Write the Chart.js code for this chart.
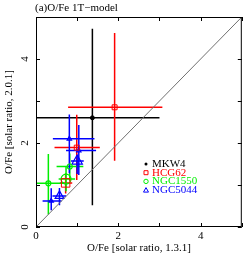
<!DOCTYPE html>
<html lang="en">
<head>
    <meta charset="UTF-8">
    <title>O/Fe 1T-model</title>
    <script src="https://cdn.jsdelivr.net/npm/chart.js"></script>
    <style>
        body {
            margin: 0;
            padding: 0;
            background-color: #fff;
        }
    </style>
</head>
<body>
    <canvas id="ofeChart" width="249" height="255"></canvas>

    <script>
        // data (x = O/Fe 1.3.1, y = O/Fe 2.0.1)
        const seriesNames = ['MKW4', 'HCG62', 'NGC1550', 'NGC5044'];

        const mkw4X = [1.37];
        const mkw4Y = [2.60];
        const mkw4XLo = [0.00];
        const mkw4XHi = [3.00];
        const mkw4YLo = [0.52];
        const mkw4YHi = [4.72];

        const hcg62X = [1.91, 0.99, 0.72];
        const hcg62Y = [2.85, 1.89, 1.05];
        const hcg62XLo = [0.78, 0.45, 0.58];
        const hcg62XHi = [3.07, 1.55, 0.88];
        const hcg62YLo = [1.58, 1.12, 0.80];
        const hcg62YHi = [4.62, 2.67, 1.28];

        const ngc1550X = [0.30, 0.73, 0.82];
        const ngc1550Y = [1.04, 1.14, 1.44];
        const ngc1550XLo = [0.00, 0.55, 0.50];
        const ngc1550XHi = [0.68, 0.95, 1.15];
        const ngc1550YLo = [0.30, 0.85, 1.10];
        const ngc1550YHi = [1.74, 1.45, 1.75];

        const ngc5044X = [0.81, 1.04, 1.00, 0.57, 0.37];
        const ngc5044Y = [2.10, 1.82, 1.57, 0.74, 0.62];
        const ngc5044XLo = [0.41, 0.73, 0.85, 0.40, 0.16];
        const ngc5044XHi = [1.42, 1.46, 1.16, 0.73, 0.62];
        const ngc5044YLo = [1.28, 1.24, 1.26, 0.52, 0.40];
        const ngc5044YHi = [2.68, 2.43, 1.70, 0.93, 0.92];

        const diagX = [0, 5];

        const xTicks = [0, 1, 2, 3, 4, 5];
        const yTicks = [0, 1, 2, 3, 4, 5];
        const xTickLabels = ['0', '', '2', '', '4', ''];
        const yTickLabels = ['0', '', '2', '', '4', ''];

        const serif = '"Liberation Serif", "DejaVu Serif", serif';

        function toPoints(xs, ys, xlo, xhi, ylo, yhi) {
            return xs.map(function(x, i) {
                return { x: x, y: ys[i], xMin: xlo[i], xMax: xhi[i], yMin: ylo[i], yMax: yhi[i] };
            });
        }

        // draws error bars, frame, inward ticks, rotated y labels, legend and title
        const extras = {
            id: 'extras',
            beforeDatasetsDraw(chart) {
                const ctx = chart.ctx;
                const xs = chart.scales.x;
                const ys = chart.scales.y;
                ctx.save();
                chart.data.datasets.forEach(function(ds) {
                    if (!ds.errorBars) return;
                    ctx.strokeStyle = ds.borderColor;
                    ctx.lineWidth = 1.5;
                    ds.data.forEach(function(p) {
                        const px = xs.getPixelForValue(p.x);
                        const py = ys.getPixelForValue(p.y);
                        ctx.beginPath();
                        ctx.moveTo(xs.getPixelForValue(p.xMin), py);
                        ctx.lineTo(xs.getPixelForValue(p.xMax), py);
                        ctx.moveTo(px, ys.getPixelForValue(p.yMin));
                        ctx.lineTo(px, ys.getPixelForValue(p.yMax));
                        ctx.stroke();
                    });
                });
                ctx.restore();
            },
            afterDraw(chart) {
                const ctx = chart.ctx;
                const a = chart.chartArea;
                const xs = chart.scales.x;
                const ys = chart.scales.y;
                ctx.save();

                // frame
                ctx.strokeStyle = '#000';
                ctx.lineWidth = 1;
                ctx.strokeRect(a.left + 0.5, a.top + 0.5, a.right - a.left - 1, a.bottom - a.top - 1);

                // inward ticks on all four sides
                ctx.beginPath();
                xTicks.forEach(function(v) {
                    const px = Math.round(xs.getPixelForValue(v)) + 0.5;
                    ctx.moveTo(px, a.bottom);
                    ctx.lineTo(px, a.bottom - 4);
                    ctx.moveTo(px, a.top);
                    ctx.lineTo(px, a.top + 4);
                });
                yTicks.forEach(function(v) {
                    const py = Math.round(ys.getPixelForValue(v)) + 0.5;
                    ctx.moveTo(a.left, py);
                    ctx.lineTo(a.left + 4, py);
                    ctx.moveTo(a.right, py);
                    ctx.lineTo(a.right - 4, py);
                });
                ctx.stroke();

                // rotated y tick labels and title
                ctx.fillStyle = '#000';
                ctx.font = '11px ' + serif;
                ctx.textAlign = 'center';
                ctx.textBaseline = 'middle';
                yTicks.forEach(function(v, i) {
                    if (!yTickLabels[i]) return;
                    ctx.save();
                    ctx.translate(a.left - 11, ys.getPixelForValue(v));
                    ctx.rotate(-Math.PI / 2);
                    ctx.fillText(yTickLabels[i], 0, 0);
                    ctx.restore();
                });
                ctx.save();
                ctx.translate(9, 122);
                ctx.rotate(-Math.PI / 2);
                ctx.fillText('O/Fe [solar ratio, 2.0.1]', 0, 0);
                ctx.restore();

                // title
                ctx.textAlign = 'left';
                ctx.fillText('(a)O/Fe 1T\u2212model', 35, 8);

                // legend
                const colors = ['#000000', '#ff0000', '#00ee00', '#0000ff'];
                const shapes = ['dot', 'rect', 'circle', 'triangle'];
                seriesNames.forEach(function(name, i) {
                    const ly = 164 + i * 8.7;
                    const lx = 146;
                    ctx.strokeStyle = colors[i];
                    ctx.fillStyle = colors[i];
                    ctx.lineWidth = 1;
                    ctx.beginPath();
                    if (shapes[i] === 'dot') {
                        ctx.arc(lx, ly, 1.5, 0, Math.PI * 2);
                        ctx.fill();
                    } else if (shapes[i] === 'rect') {
                        ctx.rect(lx - 2, ly - 2, 4, 4);
                        ctx.stroke();
                    } else if (shapes[i] === 'circle') {
                        ctx.arc(lx, ly, 2.2, 0, Math.PI * 2);
                        ctx.stroke();
                    } else {
                        ctx.moveTo(lx, ly - 2.5);
                        ctx.lineTo(lx + 2.5, ly + 2);
                        ctx.lineTo(lx - 2.5, ly + 2);
                        ctx.closePath();
                        ctx.stroke();
                    }
                    ctx.fillText(name, 152, ly);
                });

                ctx.restore();
            }
        };

        const ctx = document.getElementById('ofeChart').getContext('2d');
        new Chart(ctx, {
            type: 'scatter',
            data: {
                datasets: [
                    {
                        label: 'diagonal',
                        type: 'line',
                        data: diagX.map(function(v) { return { x: v, y: v }; }),
                        borderColor: '#707070',
                        borderWidth: 1,
                        pointRadius: 0,
                        fill: false,
                    },
                    {
                        label: seriesNames[0],
                        data: toPoints(mkw4X, mkw4Y, mkw4XLo, mkw4XHi, mkw4YLo, mkw4YHi),
                        errorBars: true,
                        borderColor: '#000000',
                        backgroundColor: '#000000',
                        pointStyle: 'circle',
                        pointRadius: 2,
                        borderWidth: 1,
                    },
                    {
                        label: seriesNames[1],
                        data: toPoints(hcg62X, hcg62Y, hcg62XLo, hcg62XHi, hcg62YLo, hcg62YHi),
                        errorBars: true,
                        borderColor: '#ff0000',
                        backgroundColor: 'rgba(0,0,0,0)',
                        pointStyle: 'rect',
                        pointRadius: [3.5, 3.5, 6],
                        borderWidth: 1,
                    },
                    {
                        label: seriesNames[2],
                        data: toPoints(ngc1550X, ngc1550Y, ngc1550XLo, ngc1550XHi, ngc1550YLo, ngc1550YHi),
                        errorBars: true,
                        borderColor: '#00ee00',
                        backgroundColor: 'rgba(0,0,0,0)',
                        pointStyle: 'circle',
                        pointRadius: [2.5, 5, 2.5],
                        borderWidth: 1.2,
                    },
                    {
                        label: seriesNames[3],
                        data: toPoints(ngc5044X, ngc5044Y, ngc5044XLo, ngc5044XHi, ngc5044YLo, ngc5044YHi),
                        errorBars: true,
                        borderColor: '#0000ff',
                        backgroundColor: 'rgba(0,0,0,0)',
                        pointStyle: 'triangle',
                        pointRadius: [2.5, 2.5, 6, 5, 2.5],
                        borderWidth: 1.2,
                    },
                ],
            },
            options: {
                responsive: false,
                animation: false,
                layout: {
                    padding: { top: 17, right: 2, left: 0, bottom: 0 },
                },
                plugins: {
                    legend: { display: false },
                    tooltip: { enabled: false },
                },
                scales: {
                    x: {
                        type: 'linear',
                        min: 0,
                        max: 5,
                        afterBuildTicks: function(scale) {
                            scale.ticks = xTicks.map(function(v) { return { value: v }; });
                        },
                        afterFit: function(scale) {
                            scale.height = 28;
                        },
                        grid: { display: false, drawTicks: false },
                        border: { display: false },
                        ticks: {
                            color: '#000',
                            font: { family: serif, size: 11 },
                            padding: 3,
                            maxRotation: 0,
                            callback: function(v, i) { return xTickLabels[i]; },
                        },
                        title: {
                            display: true,
                            text: 'O/Fe [solar ratio, 1.3.1]',
                            color: '#000',
                            font: { family: serif, size: 11 },
                            padding: 0,
                        },
                    },
                    y: {
                        type: 'linear',
                        min: 0,
                        max: 5,
                        afterBuildTicks: function(scale) {
                            scale.ticks = yTicks.map(function(v) { return { value: v }; });
                        },
                        afterFit: function(scale) {
                            scale.width = 36;
                        },
                        grid: { display: false, drawTicks: false },
                        border: { display: false },
                        ticks: { display: false },
                    },
                },
            },
            plugins: [extras],
        });
    </script>
</body>
</html>
